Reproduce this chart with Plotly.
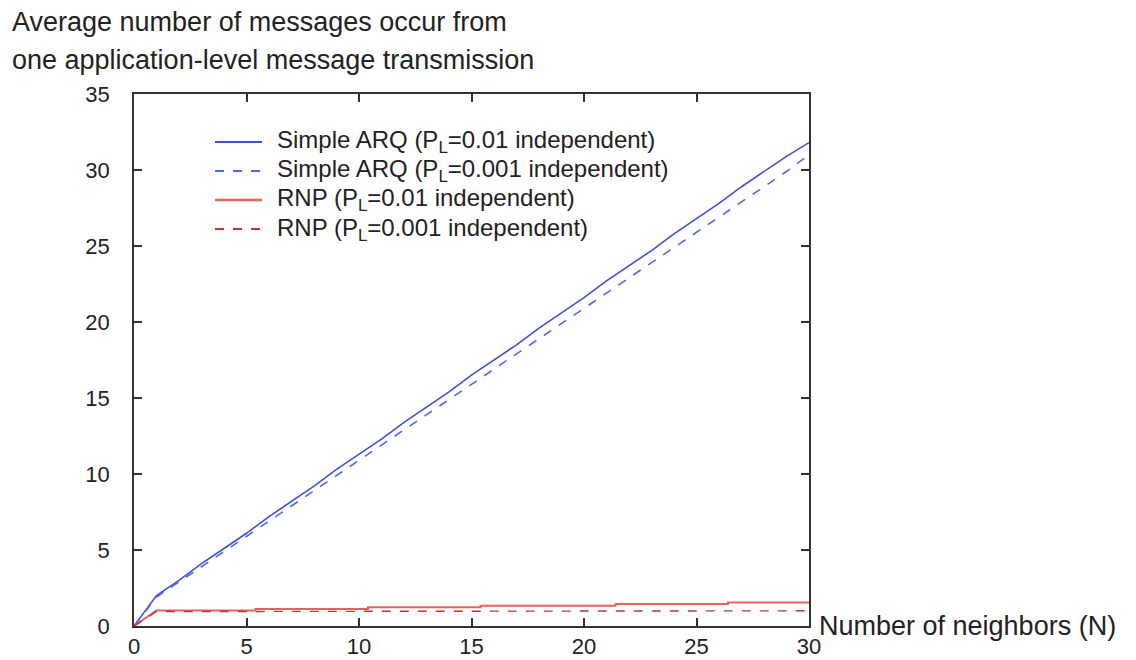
import plotly.graph_objects as go

# Data
n_blue = list(range(0, 31))
arq_001 = [0, 2.0, 3.0, 4.1, 5.1, 6.1, 7.2, 8.2, 9.2, 10.3, 11.3, 12.3, 13.4, 14.4, 15.4,
           16.5, 17.5, 18.5, 19.6, 20.6, 21.6, 22.7, 23.7, 24.7, 25.8, 26.8, 27.8, 28.9,
           29.9, 30.9, 31.8]
arq_0001 = [0, 1.9, 2.9, 3.9, 4.9, 5.9, 6.9, 7.9, 8.9, 9.9, 10.9, 11.9, 12.9, 13.9, 14.9,
            15.9, 16.9, 17.9, 18.9, 19.9, 20.9, 21.9, 22.9, 23.9, 24.9, 25.9, 26.9, 27.9,
            28.9, 29.9, 31.0]
rnp_x = [0, 1, 5.4, 5.4, 10.4, 10.4, 15.4, 15.4, 21.4, 21.4, 26.4, 26.4, 30]
rnp_001 = [0, 1.02, 1.02, 1.12, 1.12, 1.23, 1.23, 1.34, 1.34, 1.45, 1.45, 1.55, 1.55]
rnp_x2 = [0, 1, 30]
rnp_0001 = [0, 0.95, 1.0]

names = [
    "Simple ARQ (P<sub>L</sub>=0.01 independent)",
    "Simple ARQ (P<sub>L</sub>=0.001 independent)",
    "RNP (P<sub>L</sub>=0.01 independent)",
    "RNP (P<sub>L</sub>=0.001 independent)",
]
title_lines = ["Average number of messages occur from",
               "one application-level message transmission"]
x_title = "Number of neighbors (N)"

colors = ["#3f52d4", "#5068e6", "#e8625a", "#b83a34"]
dashes = ["solid", "dash", "solid", "dash"]
widths = [1.6, 1.6, 2.0, 1.4]

FONT = "Liberation Sans, Arial"
fig = go.Figure()
series = [(n_blue, arq_001), (n_blue, arq_0001), (rnp_x, rnp_001), (rnp_x2, rnp_0001)]
for i, (xs, ys) in enumerate(series):
    fig.add_trace(go.Scatter(x=xs, y=ys, mode="lines", name=names[i], showlegend=False,
                             line=dict(color=colors[i], width=widths[i], dash=dashes[i])))

# manual legend (to match tight row spacing of the reference)
leg_y = [0.9098, 0.8553, 0.8008, 0.7462]
shapes = []
annotations = []
for i in range(4):
    shapes.append(dict(type="line", xref="paper", yref="paper", x0=0.12, x1=0.1896,
                       y0=leg_y[i], y1=leg_y[i],
                       line=dict(color=colors[i], width=widths[i] + 0.4, dash=dashes[i])))
    annotations.append(dict(text=names[i], xref="paper", yref="paper", x=0.2089, y=leg_y[i],
                            xanchor="left", yanchor="middle", showarrow=False,
                            font=dict(family=FONT, size=24, color="#222222")))

axis_common = dict(showgrid=False, zeroline=False, showline=True, linecolor="#333333",
                   linewidth=1.5, mirror="ticks", ticks="inside", ticklen=8,
                   tickcolor="#333333", tickwidth=1.5, automargin=False,
                   tickfont=dict(family=FONT, size=22, color="#222222"))

annotations += [
    dict(text=title_lines[0], xref="paper", yref="paper", x=-0.1837, y=1.0, yshift=72,
         xanchor="left", yanchor="middle", align="left", showarrow=False,
         font=dict(family=FONT, size=27, color="#222222")),
    dict(text=title_lines[1], xref="paper", yref="paper", x=-0.1837, y=1.0, yshift=34,
         xanchor="left", yanchor="middle", align="left", showarrow=False,
         font=dict(family=FONT, size=27, color="#222222")),
    dict(text=x_title, xref="paper", yref="paper", x=1.0, y=0,
         xshift=8, xanchor="left", yanchor="middle", showarrow=False,
         font=dict(family=FONT, size=27, color="#222222")),
]

fig.update_layout(
    width=1136, height=660,
    margin=dict(l=134, r=327, t=94, b=34),
    paper_bgcolor="white", plot_bgcolor="white",
    font=dict(family=FONT, color="#222222"),
    xaxis=dict(range=[0, 30], tickvals=[0, 5, 10, 15, 20, 25, 30], ticklabelstandoff=0,
               **axis_common),
    yaxis=dict(range=[0, 35], tickvals=[0, 5, 10, 15, 20, 25, 30, 35], ticklabelstandoff=18,
               **axis_common),
    showlegend=False,
    shapes=shapes,
    annotations=annotations,
)

fig.write_html("out.html")
